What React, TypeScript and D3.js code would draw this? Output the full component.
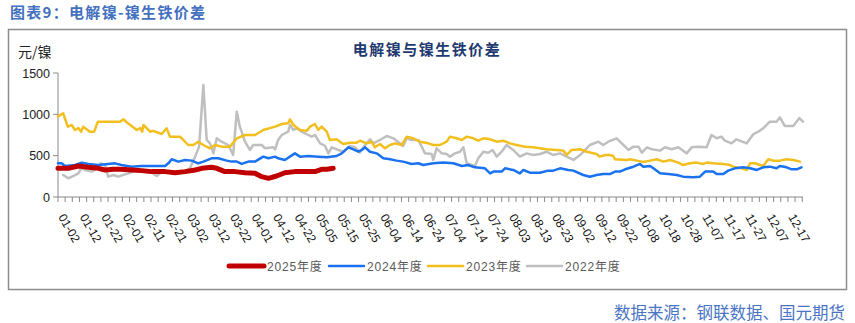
import React from 'react';
import * as d3 from 'd3';

const yTicks = [0, 500, 1000, 1500];
const xLabels = ['01-02','01-12','01-22','02-01','02-11','02-21','03-02','03-12','03-22','04-01','04-12','04-22','05-05','05-15','05-25','06-04','06-14','06-24','07-04','07-14','07-24','08-03','08-13','08-23','09-02','09-12','09-22','10-08','10-18','10-28','11-07','11-17','11-27','12-07','12-17'];
const seriesNames = ['2025年度', '2024年度', '2023年度', '2022年度'];
const seriesColors = ['#c00000', '#1a72f0', '#f2bf1f', '#bfbfbf'];

const day2025 = [0,3.4,6.7,10,13.3,15.5,18.2,20.9,24.2,27.5,30.8,35.2,38.5,41.8,45.1,47.3,50.5,52.2,54.9,58.2,61.5,64.8,67,69.2,71.9,74.6,77.9,81.2,84.5,86.7,88.4,90.5];
const val2025 = [347,347,375,359,347,327,335,335,327,319,307,307,294,307,327,347,359,347,307,307,294,286,246,226,254,294,307,307,307,335,335,347];

const day2024 = [0,1.2,2.3,5.6,7.8,10,13.3,16.5,18.7,20.9,24.2,27.5,30.8,35.2,36.3,37.4,39.6,41.8,44,46.1,47.8,50.5,52.7,55.5,57.1,58.8,60.4,62.6,64.8,67.5,69.2,71.4,72.4,74.6,77.9,79.6,82.3,85.6,88.4,91.6,93.3,95.5,97.1,98.8,99.9,101,102.6,104.8,107,109.2,111.4,113.5,116.3,118.5,120.1,123.4,126.7,130,132.8,134.9,137.1,140.4,142.1,143.2,145.9,147,149.7,151.9,153,155.2,158.5,161.2,162.9,165.1,167.8,169.5,172.7,174.9,177.1,179.3,181.5,183.2,184.8,186.5,188.7,191.4,192.5,194.7,195.8,198,200.7,203.5,205.6,208.9,211.1,212.8,215.5,216.6,218.8,220.4,222.6,225.4,227.6,229.8,231.9,234.1,236.3,237.4,239.6,241.3,242.9,244.5];
const val2024 = [407,407,375,387,415,400,387,400,407,387,367,375,375,375,407,456,428,448,440,407,428,468,468,440,428,428,400,428,428,488,468,488,468,448,528,488,496,488,480,496,528,601,577,548,569,601,548,528,468,456,440,428,400,408,387,408,416,408,375,387,359,347,286,307,307,347,327,286,327,294,294,319,319,347,327,319,266,246,266,278,278,307,307,335,359,400,367,375,347,286,278,266,246,238,246,307,307,278,278,319,347,359,347,327,359,367,347,375,359,335,335,359];

const day2023 = [0,1.7,3.2,4.5,5.6,6.7,7.6,8.3,10.5,11.9,13.1,20.4,21.5,23,25.9,27,27.7,28.1,30.3,31.3,34.1,35.7,36.8,40.1,41.2,42.8,44.5,46.1,47.8,50,51.6,53.8,56.6,58.8,61.5,64.8,67.5,71.4,73.6,75.7,76.3,77.4,79.6,81.8,82.9,84.5,85.6,86.7,88.4,89.4,91.6,93.8,96,98.2,99.3,101.5,103.2,104.2,105.9,107.5,109.2,110.8,113,114.7,116.8,119,121.8,123.4,125.6,127.8,128.9,131.1,132.8,134.4,136.6,138.2,139.9,142.1,144.3,146.4,148.6,150.8,153.6,156.3,158.5,160.7,164,166.2,167.3,168.9,171.7,173.9,177.1,178.2,179.9,181.5,182.6,183.2,187,188.1,190.3,192.5,194.7,196.9,199.1,201.3,204,205.6,207.8,210,212.2,213.3,215.5,218.8,221,222.6,224.8,226.5,227.6,229.2,231.9,233.6,235.2,237.4,239.6,241.8,244];
const val2023 = [975,1013,851,871,811,835,790,851,790,790,911,911,940,891,811,835,790,871,790,800,762,831,730,730,690,629,629,669,629,589,629,609,609,710,750,750,811,851,883,891,940,871,811,800,851,883,811,851,790,690,698,641,657,657,681,649,669,601,641,589,629,649,629,730,710,669,649,629,629,669,730,710,690,730,710,681,710,698,669,681,649,629,609,601,589,577,569,561,508,569,577,548,520,488,508,508,496,456,448,456,440,424,440,456,428,448,416,387,408,416,400,416,408,400,387,359,347,327,408,408,375,456,440,440,456,448,428];

const day2022 = [1.7,3.4,5.6,6.7,7.6,8.9,11.1,12.7,14.1,15.5,16.5,18.2,19.8,23.1,25.9,27.5,30.8,32.5,34.1,37.4,39.6,41.8,43.4,45.1,46.4,47.8,48.9,50,51.1,52.2,53.8,56,57.6,58.8,59.8,61.5,63.1,64.2,67,68.1,70.8,71.4,72.4,73.6,75.7,76.3,77.4,78.5,80.1,82.3,83.4,84.5,86.2,87.8,88.9,90,92.2,93.8,96,97.7,99.3,100.4,102.6,103.7,105.9,108.1,110.3,113.5,114.7,116.3,118.5,120.7,122.9,123.4,124.5,126.2,127.8,128.9,130.5,132.2,133.3,134.4,136.1,137.1,138.2,139.9,141.5,142.9,144.3,145.9,147.5,149.7,151.9,154.1,156.3,158.5,160.7,162.9,165.1,167.3,169.5,171.7,174.9,177.7,179.3,181,183.7,185.4,187.6,189.2,190.9,192,193.7,195.3,198,199.6,201.8,204,206.7,208.4,210.6,213.3,214.9,216.6,218.2,219.3,221.5,223.1,226.5,228.7,230.3,231.9,234.1,236.3,237.4,239,241.8,243.8,245];
const val2022 = [266,226,266,286,347,327,307,347,407,387,246,266,246,286,327,307,294,254,307,294,307,307,347,488,609,1355,690,649,528,710,669,629,508,1032,851,669,569,629,629,589,601,577,690,750,790,871,811,831,790,750,730,750,649,620,528,601,569,548,617,601,536,601,698,649,690,738,710,617,710,690,690,528,520,448,589,528,520,488,528,548,601,408,387,375,468,548,536,569,488,548,629,569,488,528,508,520,548,508,528,488,448,508,629,669,629,669,710,649,569,609,609,536,601,577,561,601,577,601,528,601,609,601,750,710,730,681,649,698,649,762,790,831,911,911,963,859,859,955,911];

const seriesDays = [day2025, day2024, day2023, day2022];
const seriesVals = [val2025, val2024, val2023, val2022];
const seriesWidths = [5, 2.5, 2.5, 2.5];

export default function App() {
  const W = 855, H = 323;
  const x = d3.scaleLinear().domain([0, 245]).range([58, 803]);
  const y = d3.scaleLinear().domain([0, 1500]).range([197, 73]);
  const line = d3.line<[number, number]>().x(d => x(d[0])).y(d => y(d[1]));
  const labelStep = 7.06;
  const tickStep = labelStep / 3;
  const tickPos: number[] = [];
  for (let t = 0; t <= 245.01; t += tickStep) tickPos.push(t);
  const axisColor = '#898989';
  const drawOrder = [3, 2, 1, 0];
  const legendX = [229, 329, 428, 527];

  return (
    <svg width={W} height={H} style={{ position: 'absolute', left: 0, top: 0, background: '#fff' }}
      fontFamily="'Liberation Sans', Arial, sans-serif">
      <rect x={0} y={0} width={W} height={H} fill="#fff" />
      <text x={10} y={18} fontSize={15} fontWeight="bold" fill="#4470c0" letterSpacing={1.3}
        fontFamily="'Noto Sans CJK SC', sans-serif">图表9：电解镍-镍生铁价差</text>
      <rect x={8.5} y={29.5} width={838} height={260} fill="none" stroke="#8c8c8c" strokeWidth={1.5} />
      <text x={427} y={55} textAnchor="middle" fontSize={15} fontWeight="bold" fill="#1f3a70" letterSpacing={1.5}
        fontFamily="'Noto Sans CJK SC', sans-serif">电解镍与镍生铁价差</text>
      <text x={18} y={57} fontSize={14} fill="#222" fontFamily="'Noto Sans CJK SC', sans-serif">元/镍</text>

      <line x1={58} x2={58} y1={y(1500)} y2={y(0)} stroke={axisColor} strokeWidth={1} />
      {yTicks.map(t => (
        <g key={t}>
          <line x1={53} x2={58} y1={y(t)} y2={y(t)} stroke={axisColor} />
          <text x={50} y={y(t) + 4.5} textAnchor="end" fontSize={12.5} fill="#222">{t}</text>
        </g>
      ))}
      <line x1={58} x2={803} y1={197} y2={197} stroke={axisColor} strokeWidth={1} />
      {tickPos.map((t, i) => (
        <line key={i} x1={x(t)} x2={x(t)} y1={197} y2={202} stroke={axisColor} />
      ))}
      {xLabels.map((l, i) => {
        const px = x(i * labelStep);
        return (
          <text key={l} transform={`translate(${px},${217}) rotate(60)`} fontSize={12} fill="#111">{l}</text>
        );
      })}

      {drawOrder.map(k => {
        const pts = seriesDays[k].map((d, i) => [d, seriesVals[k][i]] as [number, number]);
        return (
          <path key={k} d={line(pts) || ''} fill="none" stroke={seriesColors[k]} strokeWidth={seriesWidths[k]}
            strokeLinejoin="round" strokeLinecap="round" />
        );
      })}

      {seriesNames.map((n, k) => (
        <g key={n}>
          <line x1={legendX[k]} x2={legendX[k] + 35} y1={266} y2={266} stroke={seriesColors[k]}
            strokeWidth={seriesWidths[k]} strokeLinecap="round" />
          <text x={legendX[k] + 38} y={270.5} fontSize={12} fill="#595959" letterSpacing={0.8}
            fontFamily="'Liberation Sans', 'Noto Sans CJK SC', sans-serif">{n}</text>
        </g>
      ))}

      <text x={845} y={319} textAnchor="end" fontSize={16.5} fill="#4a74c4"
        fontFamily="'Noto Sans CJK SC', sans-serif">数据来源：钢联数据、国元期货</text>
    </svg>
  );
}
